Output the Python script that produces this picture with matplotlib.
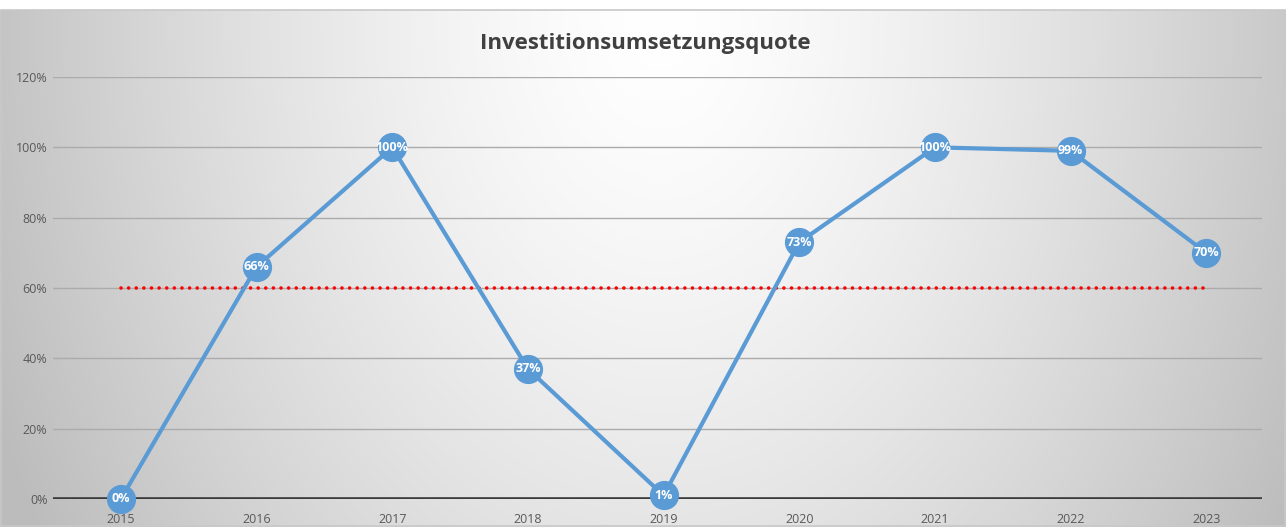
import numpy as np
import matplotlib.pyplot as plt
from matplotlib.patches import Rectangle

# data
years = ["2015", "2016", "2017", "2018", "2019", "2020", "2021", "2022", "2023"]
quote = [0, 66, 100, 37, 1, 73, 100, 99, 70]
target = [60] * len(years)
yticks = [0, 20, 40, 60, 80, 100, 120]

plt.rcParams['font.family'] = ['Open Sans', 'DejaVu Sans']

W, H = 1286, 527
fig = plt.figure(figsize=(W / 100, H / 100), dpi=100)

# background: radial gradient, white at top centre -> gray at the edges
bg = fig.add_axes([0, 0, 1, 1])
bg.set_xlim(0, W)
bg.set_ylim(H, 0)
bg.axis("off")
yy, xx = np.mgrid[0:H, 0:W]
d = np.sqrt(((xx - 660) / 800.0) ** 2 + ((yy - 20) / 1100.0) ** 2)
shade = np.clip(1.0 - 0.30 * d ** 1.4, 0.74, 1.0)
img = np.dstack([shade, shade, shade])
img[:10] = 1.0
bg.imshow(img, extent=(0, W, H, 0), aspect="auto", interpolation="bilinear")
bg.add_patch(Rectangle((1, 10), W - 2, H - 11, fill=False, ec="#c8c8c8", lw=1.2))

ax = fig.add_axes([53 / W, 1 - 499 / H, (1262 - 53) / W, (499 - 77) / H])
ax.patch.set_alpha(0)
x = np.arange(len(years))

for t in yticks[1:]:
    ax.axhline(t, color="#ababab", lw=1.0, zorder=1)
ax.axhline(0, color="#3a3a3a", lw=2.6, zorder=2)

ax.plot(x, target, color="#ff0000", lw=2.6, linestyle=(0, (0.01, 2.1)),
        dash_capstyle="round", zorder=3)
ax.plot(x, quote, color="#5b9bd5", lw=3.0, marker="o", markersize=20,
        markerfacecolor="#5b9bd5", markeredgecolor="#5b9bd5", zorder=4,
        clip_on=False)
for xi, v in zip(x, quote):
    ax.text(xi, v, f"{v}%", color="white", fontsize=9, fontweight="bold",
            ha="center", va="center", zorder=5)

ax.set_xlim(-0.5, 8.41)
ax.set_ylim(0, 120)
ax.set_yticks(yticks)
ax.set_yticklabels([f"{t}%" for t in yticks], color="#595959", fontsize=9)
ax.set_xticks(x)
ax.set_xticklabels(years, color="#595959", fontsize=9)
ax.tick_params(axis="y", length=0, pad=4)
ax.tick_params(axis="x", length=0, pad=10)
for s in ax.spines.values():
    s.set_visible(False)

fig.text(645 / W, 1 - 43 / H, "Investitionsumsetzungsquote", ha="center", va="center",
         fontsize=16, fontweight="bold", color="#404040")

fig.savefig("out.png", dpi=100)
